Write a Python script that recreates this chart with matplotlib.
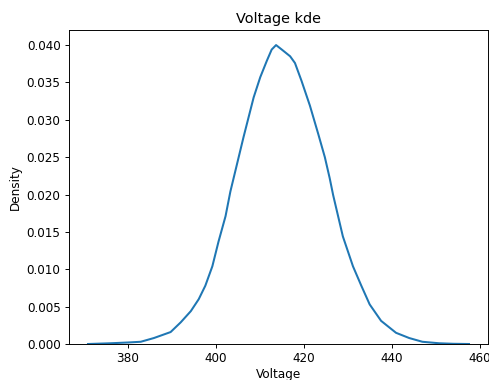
import matplotlib
matplotlib.use('Agg')
import matplotlib.pyplot as plt

# voltage values and density
voltage = [370.9, 376.0, 379.9, 382.9, 385.9, 389.7, 392.0, 394.3, 396.1, 397.6,
           399.2, 400.6, 402.2, 403.3, 406.3, 408.6, 410.1, 411.6, 412.7, 413.7,
           415.0, 416.9, 418.0, 419.5, 421.4, 423.3, 424.8, 425.9, 426.7, 428.9,
           431.2, 433.1, 435.0, 437.6, 441.0, 444.0, 447.0, 450.8, 454.0, 457.6]
density = [0.0000, 0.0001, 0.0002, 0.0003, 0.0008, 0.0016, 0.0029, 0.0044, 0.0060, 0.0078,
           0.0104, 0.0137, 0.0171, 0.0204, 0.0277, 0.0330, 0.0357, 0.0379, 0.0394, 0.0400,
           0.0394, 0.0385, 0.0376, 0.0352, 0.0319, 0.0281, 0.0250, 0.0222, 0.0199, 0.0144,
           0.0104, 0.0078, 0.0053, 0.0031, 0.0015, 0.0008, 0.0003, 0.0001, 0.00003, 0.0000]

fig = plt.figure(figsize=(489 / 86, 380 / 86), dpi=86)
ax = fig.add_axes([0.141, 0.0947, 0.857, 0.826])

ax.plot(voltage, density, color='#1f77b4', linewidth=1.7)
ax.set_ylim(bottom=0)
ax.set_xticks([380, 400, 420, 440, 460])
ax.set_yticks([0.0, 0.005, 0.010, 0.015, 0.020, 0.025, 0.030, 0.035, 0.040])
ax.set_yticklabels(['0.000', '0.005', '0.010', '0.015', '0.020', '0.025', '0.030', '0.035', '0.040'])
ax.set_title('Voltage kde')
ax.set_xlabel('Voltage', labelpad=2)
ax.set_ylabel('Density')

fig.savefig('out.png', dpi=86)
